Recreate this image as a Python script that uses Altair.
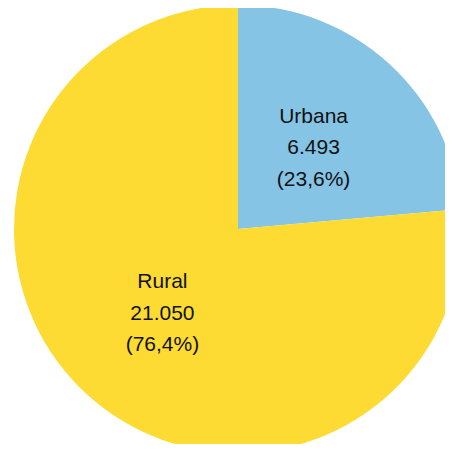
import altair as alt
import pandas as pd

categories = ["Urbana", "Rural"]
values = [6493, 21050]
value_labels = ["6.493", "21.050"]
pct_labels = ["(23,6%)", "(76,4%)"]
colors = ["#85C4E4", "#FDDB33"]

df = pd.DataFrame({
    "cat": categories,
    "val": values,
    "order": [0, 1],
    "label": [f"{c}\n{v}\n{p}" for c, v, p in zip(categories, value_labels, pct_labels)],
})

cx, cy, r = 230, 221, 224

base = alt.Chart(df).encode(
    theta=alt.Theta("val:Q", stack=True),
    order=alt.Order("order:Q"),
    x=alt.value(cx),
    y=alt.value(cy),
)

arcs = base.mark_arc(radius=r, stroke=None).encode(
    color=alt.Color("cat:N", scale=alt.Scale(domain=categories, range=colors), legend=None)
)

text = base.mark_text(
    radius=112, font="Liberation Sans", fontSize=21, lineBreak="\n",
    lineHeight=31.5, dy=-29.5, color="#111111", align="center", baseline="middle"
).encode(text="label:N")

chart = (arcs + text).properties(
    width=437, height=436, padding=0, autosize=alt.AutoSizeParams(type="none")
).configure_view(stroke=None)

chart.save("out.html", embed_options={"renderer": "svg", "actions": False})
